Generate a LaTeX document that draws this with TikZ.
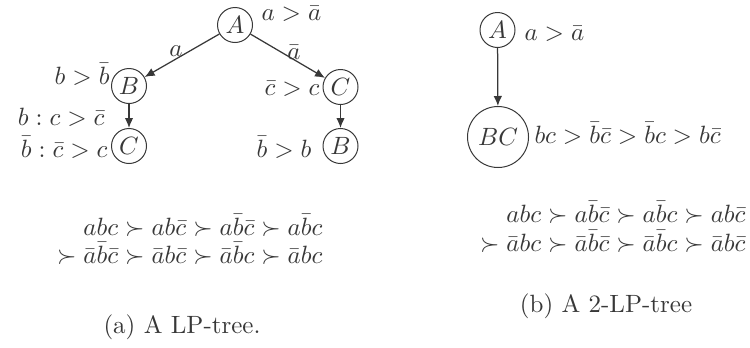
\documentclass[tikz,border=0pt]{standalone}
\usetikzlibrary{arrows.meta}
\colorlet{ink}{black!78}
\begin{document}
\begin{tikzpicture}[x=0.4pt,y=-0.4pt,
  every node/.style={text=ink,font=\fontsize{10.4}{12.5}\selectfont},
  vnode/.style={circle,draw=ink,inner sep=0pt,minimum size=14pt},
  bignode/.style={circle,draw=ink,inner sep=0pt,minimum size=24.4pt},
  edge/.style={draw=ink,line width=0.5pt,-{Latex[length=4pt,width=3.4pt]}},
  lbl/.style={inner sep=0pt},
  captext/.style={inner sep=0pt,font=\normalsize}]
\useasboundingbox (0,0) rectangle (750,347);
% left tree
\node[vnode] (A) at (235,25) {$A$};
\node[vnode] (B) at (129,86) {$B$};
\node[vnode] (C) at (340.5,87) {$C$};
\node[vnode] (C2) at (129,146) {$C$};
\node[vnode] (B2) at (340.5,146) {$B$};
\draw[edge] (A) -- (B);
\draw[edge] (A) -- (C);
\draw[edge] (B) -- (C2);
\draw[edge] (C) -- (B2);
\node[lbl] (ea) at (176,51) {$a$};
\node[lbl] (eabar) at (294,52) {$\bar a$};
\node[lbl,anchor=base west] (lA) at (261,20) {$a>\bar a$};
\node[lbl,anchor=base east] (lB) at (110,84) {$b>\bar b$};
\node[lbl,anchor=base east] (lC) at (320,95) {$\bar c>c$};
\node[lbl,anchor=base east] (lC2a) at (105,125) {$b:c>\bar c$};
\node[lbl,anchor=base east] (lC2b) at (108,157) {$\bar b:\bar c>c$};
\node[lbl,anchor=base east] (lB2) at (312,157) {$\bar b>b$};
\node[lbl,anchor=base east] (o1) at (323,235) {$abc\succ ab\bar c\succ a\bar b\bar c\succ a\bar b c$};
\node[lbl,anchor=base east] (o2) at (323,263) {$\succ \bar a\bar b\bar c\succ \bar a b\bar c\succ \bar a\bar b c\succ \bar a b c$};
\node[captext,anchor=base] (capa) at (182,333) {(a) A LP-tree.};
% right tree
\node[vnode] (RA) at (497.5,30) {$A$};
\node[bignode] (RBC) at (498,137) {$BC$};
\draw[edge] (RA) -- (RBC);
\node[lbl,anchor=base west] (lRA) at (524,40) {$a>\bar a$};
\node[lbl,anchor=base west] (lRBC) at (534,143) {$bc>\bar b\bar c>\bar b c>b\bar c$};
\node[lbl,anchor=base east] (r1) at (746,222) {$abc\succ a\bar b\bar c\succ a\bar b c\succ ab\bar c$};
\node[lbl,anchor=base east] (r2) at (746,251) {$\succ \bar a bc\succ \bar a\bar b\bar c\succ \bar a\bar b c\succ \bar a b\bar c$};
\node[captext,anchor=base] (capb) at (606,312) {(b) A 2-LP-tree};
\end{tikzpicture}
\end{document}
